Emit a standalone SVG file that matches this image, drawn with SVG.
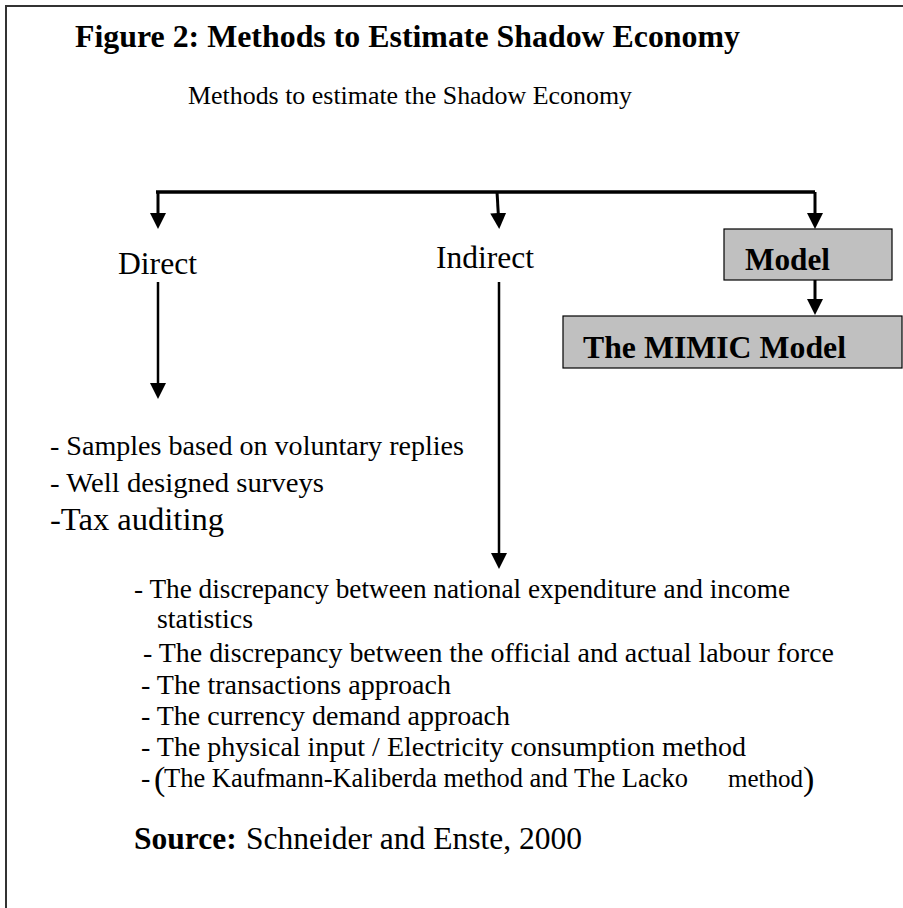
<svg xmlns="http://www.w3.org/2000/svg" width="903" height="908" viewBox="0 0 903 908">
<defs>
<style>
text{font-family:"Liberation Serif","Times New Roman",serif;fill:#000}
.b{font-weight:bold}
.box{fill:#c0c0c0;stroke:#000;stroke-width:1.2}
.ln{stroke:#000;fill:none}
</style>
<marker id="ah" markerUnits="userSpaceOnUse" markerWidth="18" markerHeight="18" refX="4" refY="8" orient="auto">
<path d="M0,0 L16,8 L0,16 z" fill="#000"/>
</marker>
</defs>
<rect width="903" height="908" fill="#fff"/>
<path d="M6,908 V6 H903" fill="none" stroke="#333" stroke-width="2"/>

<g id="title">
<text class="b" x="75" y="47" font-size="31.5" textLength="665" lengthAdjust="spacingAndGlyphs">Figure 2: Methods to Estimate Shadow Economy</text>
</g>
<g id="root">
<text x="188" y="104" font-size="26" textLength="444" lengthAdjust="spacingAndGlyphs">Methods to estimate the Shadow Economy</text>
</g>

<g id="connectors">
<path class="ln" d="M156,192 H815" stroke-width="3.5"/>
<path class="ln" d="M158,192 V217" stroke-width="3" marker-end="url(#ah)"/>
<path class="ln" d="M497,192 L498.5,217" stroke-width="3" marker-end="url(#ah)"/>
<path class="ln" d="M815,192 V217" stroke-width="3" marker-end="url(#ah)"/>
<path class="ln" d="M815,280 V303" stroke-width="3" marker-end="url(#ah)"/>
<path class="ln" d="M158,282 V387" stroke-width="2.5" marker-end="url(#ah)"/>
<path class="ln" d="M499,282 V557" stroke-width="2.5" marker-end="url(#ah)"/>
</g>

<g id="direct">
<text x="118" y="274" font-size="31.5" textLength="79" lengthAdjust="spacingAndGlyphs">Direct</text>
</g>
<g id="indirect">
<text x="436" y="268" font-size="31.5" textLength="98" lengthAdjust="spacingAndGlyphs">Indirect</text>
</g>
<g id="model">
<rect class="box" x="724" y="229" width="168" height="51"/>
<text class="b" x="745" y="270" font-size="31" textLength="85" lengthAdjust="spacingAndGlyphs">Model</text>
</g>
<g id="mimic">
<rect class="box" x="563" y="316" width="339" height="52"/>
<text class="b" x="583" y="358" font-size="31.5" textLength="263" lengthAdjust="spacingAndGlyphs">The MIMIC Model</text>
</g>

<g id="direct-list">
<text x="50" y="455" font-size="28" textLength="414" lengthAdjust="spacingAndGlyphs">- Samples based on voluntary replies</text>
<text x="50" y="492" font-size="28" textLength="274" lengthAdjust="spacingAndGlyphs">- Well designed surveys</text>
<text x="50" y="530" font-size="32" textLength="174" lengthAdjust="spacingAndGlyphs">-Tax auditing</text>
</g>

<g id="indirect-list">
<text x="134" y="598" font-size="28" textLength="656" lengthAdjust="spacingAndGlyphs">- The discrepancy between national expenditure and income</text>
<text x="157" y="628" font-size="28" textLength="96" lengthAdjust="spacingAndGlyphs">statistics</text>
<text x="143" y="662" font-size="28" textLength="691" lengthAdjust="spacingAndGlyphs">- The discrepancy between the official and actual labour force</text>
<text x="141" y="694" font-size="28" textLength="310" lengthAdjust="spacingAndGlyphs">- The transactions approach</text>
<text x="141" y="725" font-size="28" textLength="369" lengthAdjust="spacingAndGlyphs">- The currency demand approach</text>
<text x="141" y="756" font-size="28" textLength="605" lengthAdjust="spacingAndGlyphs">- The physical input / Electricity consumption method</text>
<text x="141" y="787" font-size="28">-<tspan x="154" font-size="34" dy="3">(</tspan><tspan x="164" dy="-3" font-size="26.5" textLength="524" lengthAdjust="spacingAndGlyphs">The Kaufmann-Kaliberda method and The Lacko</tspan></text>
<text x="728" y="787" font-size="25">method<tspan font-size="34" dy="3">)</tspan></text>
</g>

<g id="source">
<text x="134" y="849" font-size="31.5"><tspan class="b">Source:</tspan><tspan x="246">Schneider and Enste, 2000</tspan></text>
</g>
</svg>
